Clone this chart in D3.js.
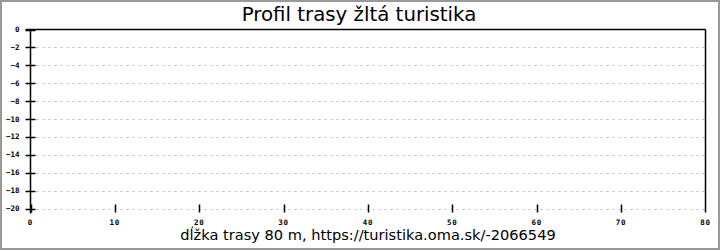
<!DOCTYPE html>
<html><head><meta charset="utf-8">
<script src="https://cdn.jsdelivr.net/npm/d3@7"></script>
<style>
html,body{margin:0;padding:0;background:#fff;}
svg{display:block;}
</style></head>
<body>
<svg id="c" width="720" height="250"></svg>
<script>
const titleText = "Profil trasy žltá turistika";
const footerText = "dĺžka trasy 80 m, https://turistika.oma.sk/-2066549";
const xTicks = [0, 10, 20, 30, 40, 50, 60, 70, 80];
const yTicks = [0, -2, -4, -6, -8, -10, -12, -14, -16, -18, -20];
const xDomain = [0, 80];
const yDomain = [-20, 0];
const profileDistance = [];
const profileElevation = [];

const svg = d3.select("#c");
const W = 720, H = 250;
const L = 30.5, R = 705.5, T = 29.5, B = 208.5;

svg.append("rect").attr("x", 1).attr("y", 1).attr("width", W - 2).attr("height", H - 2)
  .attr("fill", "#fff").attr("stroke", "#999").attr("stroke-width", 2);

const x = d3.scaleLinear().domain(xDomain).range([L, R]);
const y = d3.scaleLinear().domain(yDomain).range([B, T]);

// gridlines
svg.append("g").selectAll("line").data(yTicks.filter(d => d !== 0)).join("line")
  .attr("x1", L + 6).attr("x2", R).attr("y1", d => Math.round(y(d)) + 0.5).attr("y2", d => Math.round(y(d)) + 0.5)
  .attr("stroke", "#bbb").attr("stroke-width", 1).attr("stroke-dasharray", "2,4");

// frame: top and right
svg.append("line").attr("x1", L - 5).attr("x2", R).attr("y1", T).attr("y2", T)
  .attr("stroke", "#000").attr("stroke-width", 1.5);
svg.append("line").attr("x1", R).attr("x2", R).attr("y1", T).attr("y2", B + 4)
  .attr("stroke", "#000").attr("stroke-width", 1.5);
// left axis line
svg.append("line").attr("x1", L).attr("x2", L).attr("y1", T).attr("y2", B + 5)
  .attr("stroke", "#000").attr("stroke-width", 1.5);

// profile line (empty data)
if (profileDistance.length) {
  const pts = profileDistance.map((d, i) => [d, profileElevation[i]]);
  svg.append("path").datum(pts).attr("fill", "none").attr("stroke", "#000")
    .attr("d", d3.line().x(d => x(d[0])).y(d => y(d[1])));
}

const tickFont = "'DejaVu Sans Mono', monospace";

// y ticks
const yg = svg.append("g");
yg.selectAll("line").data(yTicks).join("line")
  .attr("x1", L - 5).attr("x2", L + 5)
  .attr("y1", d => Math.round(y(d)) + 0.5).attr("y2", d => Math.round(y(d)) + 0.5)
  .attr("stroke", "#000").attr("stroke-width", 1.5);
yg.selectAll("text").data(yTicks).join("text")
  .attr("x", 19.5).attr("y", d => y(d) + 2.5)
  .attr("text-anchor", "end").attr("font-family", tickFont).attr("font-size", "7.5px")
  .attr("font-weight", "bold").attr("fill", "#000")
  .text(d => d === 0 ? "0" : "\u2212" + Math.abs(d));

// x ticks
const xg = svg.append("g");
xg.selectAll("line").data(xTicks.filter(d => d !== 80)).join("line")
  .attr("x1", d => Math.round(x(d)) + 0.5).attr("x2", d => Math.round(x(d)) + 0.5)
  .attr("y1", B - 4).attr("y2", B + 4)
  .attr("stroke", "#000").attr("stroke-width", 1.5);
xg.selectAll("text").data(xTicks).join("text")
  .attr("x", d => x(d)).attr("y", 224.5)
  .attr("text-anchor", "middle").attr("font-family", tickFont).attr("font-size", "7.5px")
  .attr("font-weight", "bold").attr("letter-spacing", "0.8px").attr("fill", "#000")
  .text(d => String(d));

// title
svg.append("text").attr("x", 359).attr("y", 20.5).attr("text-anchor", "middle")
  .attr("font-family", "'DejaVu Sans', sans-serif").attr("font-size", "19.8px").attr("fill", "#000")
  .text(titleText);

// footer
svg.append("text").attr("x", 368).attr("y", 240).attr("text-anchor", "middle")
  .attr("font-family", "'DejaVu Sans', sans-serif").attr("font-size", "14.6px").attr("fill", "#000")
  .text(footerText);
</script>
</body></html>
